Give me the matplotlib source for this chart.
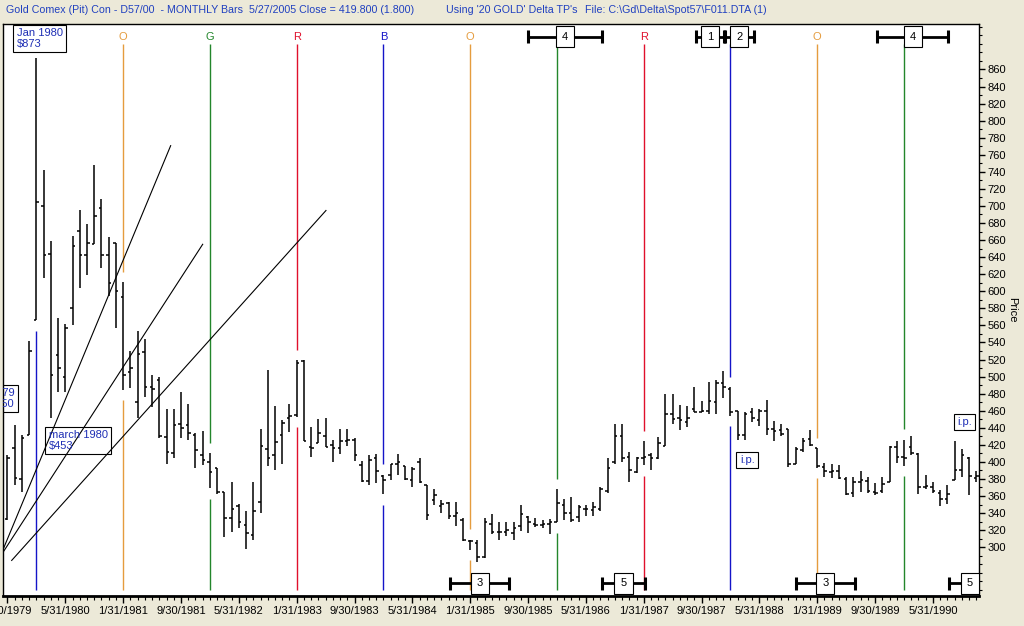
import matplotlib
matplotlib.use('Agg')
import matplotlib.pyplot as plt
from matplotlib.patches import Rectangle
from matplotlib.ticker import MultipleLocator

plt.rcParams['font.family'] = ['Liberation Sans', 'DejaVu Sans']

# monthly bars, index 0 = Sep 1979 ... 134 = Nov 1990
opens = [333, 416, 380, 432, 566, 700, 644, 525, 500, 580,
         671, 643, 656, 698, 642, 657, 593, 505, 470, 529,
         488, 496, 429, 410, 445, 443, 432, 408, 400, 393,
         365, 334, 348, 326, 314, 353, 415, 408, 432, 451,
         455, 518, 418, 422, 430, 420, 416, 425, 426, 396,
         378, 404, 384, 385, 398, 395, 379, 400, 373, 355,
         348, 352, 336, 332, 307, 305, 289, 327, 318, 318,
         317, 325, 335, 327, 326, 327, 329, 350, 340, 335,
         345, 344, 345, 366, 400, 430, 406, 388, 405, 408,
         405, 419, 456, 452, 447, 462, 458, 460, 470, 493,
         486, 460, 431, 458, 449, 460, 438, 437, 439, 398,
         414, 427, 416, 394, 388, 389, 380, 363, 376, 378,
         365, 366, 376, 418, 406, 418, 409, 371, 371, 363,
         356, 379, 390, 405, 381]
highs = [408, 443, 431, 542, 873, 742, 659, 569, 562, 665,
         695, 679, 748, 708, 664, 657, 611, 530, 553, 544,
         502, 499, 462, 462, 482, 468, 434, 436, 410, 393,
         365, 377, 351, 342, 376, 439, 508, 465, 449, 468,
         519, 519, 441, 450, 452, 426, 438, 439, 428, 401,
         408, 409, 385, 398, 409, 395, 394, 404, 373, 368,
         355, 353, 353, 334, 309, 309, 334, 339, 329, 330,
         330, 350, 336, 334, 332, 333, 368, 356, 359, 349,
         349, 353, 371, 404, 445, 445, 412, 406, 424, 410,
         429, 480, 480, 467, 465, 488, 471, 494, 496, 507,
         488, 460, 459, 463, 462, 473, 448, 445, 439, 417,
         428, 437, 416, 399, 398, 396, 382, 382, 389, 382,
         375, 382, 419, 424, 426, 430, 410, 385, 376, 367,
         373, 425, 415, 406, 389]
lows = [332, 373, 365, 431, 566, 616, 452, 482, 482, 560,
        604, 619, 655, 627, 594, 557, 484, 487, 452, 476,
        464, 428, 397, 405, 428, 426, 393, 396, 369, 362,
        312, 318, 322, 298, 308, 340, 395, 391, 398, 435,
        453, 424, 406, 422, 418, 400, 409, 419, 401, 377,
        373, 375, 362, 379, 385, 379, 371, 375, 332, 349,
        340, 333, 325, 307, 297, 283, 287, 316, 308, 313,
        308, 319, 317, 324, 322, 315, 329, 332, 330, 330,
        336, 337, 343, 363, 398, 400, 376, 387, 396, 391,
        403, 419, 445, 437, 441, 458, 458, 456, 456, 475,
        454, 426, 426, 447, 442, 432, 424, 430, 394, 398,
        412, 419, 393, 382, 381, 380, 361, 359, 365, 364,
        361, 364, 376, 399, 395, 408, 362, 368, 363, 348,
        351, 379, 382, 361, 377]
closes = [405, 381, 428, 530, 705, 642, 502, 510, 557, 653,
          642, 657, 688, 642, 610, 600, 502, 510, 527, 488,
          486, 430, 412, 443, 440, 434, 414, 402, 388, 365,
          334, 345, 330, 317, 343, 419, 405, 423, 446, 454,
          516, 424, 416, 434, 418, 416, 425, 426, 408, 378,
          402, 389, 379, 398, 400, 380, 392, 376, 338, 361,
          351, 337, 340, 309, 307, 288, 330, 318, 318, 320,
          322, 339, 329, 326, 327, 330, 352, 340, 332, 347,
          345, 347, 368, 393, 430, 405, 391, 405, 406, 405,
          422, 456, 450, 449, 452, 459, 460, 471, 493, 488,
          459, 432, 456, 451, 460, 438, 436, 433, 398, 415,
          425, 420, 395, 389, 389, 381, 362, 376, 379, 366,
          364, 374, 418, 406, 404, 410, 371, 372, 366, 356,
          362, 390, 408, 383, 384]

date_labels = ['9/30/1979', '5/31/1980', '1/31/1981', '9/30/1981', '5/31/1982',
               '1/31/1983', '9/30/1983', '5/31/1984', '1/31/1985', '9/30/1985',
               '5/31/1986', '1/31/1987', '9/30/1987', '5/31/1988', '1/31/1989',
               '9/30/1989', '5/31/1990']
label_months = list(range(0, 129, 8))

# turning point lines (month index, colour key, letter on top)
cycle_months = [4, 16, 28, 40, 52, 64, 76, 88, 100, 112, 124]
cycle_keys = ['B', 'O', 'G', 'R', 'B', 'O', 'G', 'R', 'B', 'O', 'G']
cycle_letters = ['', 'O', 'G', 'R', 'B', 'O', '', 'R', '', 'O', '']
line_colors = {'O': '#E59C3E', 'G': '#23862B', 'R': '#E0102C', 'B': '#1414C8'}

# time windows: label, centre month, half width
top_windows = [('4', 77.1, 5.1), ('1', 97.2, 1.95), ('2', 101.2, 2.0), ('4', 125.2, 4.9)]
bottom_windows = [('3', 65.3, 4.1), ('5', 85.2, 3.0), ('3', 113.1, 4.1), ('5', 133.1, 2.9)]

# fan lines drawn from the 1979 low
fan_lines = [((-1.04, 288.5), (22.57, 770.7)),
             ((-1.04, 288.5), (27.0, 655.1)),
             ((0.58, 284.5), (44.05, 694.7))]

bg = '#ECE9D8'
blue_txt = '#1F2FB5'

fig = plt.figure(figsize=(10.24, 6.26), dpi=100, facecolor=bg)
ax = fig.add_axes([3 / 1024, 30 / 626, 976 / 1024, 572 / 626])
ax.set_facecolor('white')

months = list(range(len(opens)))
tw = 0.35
ax.vlines(months, lows, highs, color='black', lw=1.1, zorder=3)
ax.hlines(opens, [m - tw for m in months], months, color='black', lw=1.1, zorder=3)
ax.hlines(closes, months, [m + tw for m in months], color='black', lw=1.1, zorder=3)

# vertical cycle lines with a gap around that month's bar
gap = 12
line_top, line_bot = 890, 250
for m, key, letter in zip(cycle_months, cycle_keys, cycle_letters):
    col = line_colors[key]
    ax.vlines(m, line_bot, lows[m] - gap, color=col, lw=1.0, zorder=2)
    if highs[m] + gap < line_top - 10:
        ax.vlines(m, highs[m] + gap, line_top, color=col, lw=1.0, zorder=2)
    if letter:
        ax.text(m, 898, letter, color=col, ha='center', va='center', fontsize=8)

for (x0, y0), (x1, y1) in fan_lines:
    ax.plot([x0, x1], [y0, y1], color='black', lw=0.8, zorder=2)


def window(label, c, w, y):
    ax.hlines(y, c - w, c + w, color='black', lw=2.0, zorder=4)
    ax.vlines([c - w, c + w], y - 7.6, y + 7.6, color='black', lw=2.2, zorder=4)
    ax.add_patch(Rectangle((c - 1.25, y - 12.3), 2.5, 24.6, fc='white', ec='black',
                           lw=0.8, zorder=5))
    ax.text(c, y, label, ha='center', va='center', fontsize=8, zorder=6)


for label, c, w in top_windows:
    window(label, c, w, 898.6)
for label, c, w in bottom_windows:
    window(label, c, w, 258)

box = dict(boxstyle='square,pad=0.3', fc='none', ec='black', lw=0.8)
ax.text(1.26, 896.3, 'Jan 1980\n$873', ha='left', va='center', color=blue_txt,
        fontsize=8, linespacing=1.1, bbox=box, zorder=7)
ax.text(5.68, 425, 'march 1980\n$453', ha='left', va='center', color=blue_txt,
        fontsize=8, linespacing=1.1, bbox=box, zorder=7)
ax.text(0.95, 474.3, 'Aug 1979\n$250', ha='right', va='center', color=blue_txt,
        fontsize=8, linespacing=1.1, bbox=box, zorder=7, clip_on=True)
ax.text(102.3, 402.2, 'i.p.', ha='center', va='center', color=blue_txt,
        fontsize=8, bbox=box, zorder=7)
ax.text(132.4, 446.7, 'i.p.', ha='center', va='center', color=blue_txt,
        fontsize=8, bbox=box, zorder=7)

ax.set_xlim(-0.62, 134.37)
ax.set_ylim(242.8, 913.3)

ax.set_xticks(label_months)
ax.set_xticklabels(date_labels, fontsize=8)
ax.xaxis.set_minor_locator(MultipleLocator(1))
ax.tick_params(axis='x', which='major', length=5, width=1, pad=2)
ax.tick_params(axis='x', which='minor', length=3, width=0.8)

ax.yaxis.tick_right()
ax.yaxis.set_label_position('right')
ax.set_yticks(list(range(300, 861, 20)))
ax.yaxis.set_minor_locator(MultipleLocator(10))
ax.tick_params(axis='y', which='major', length=4, width=1, pad=2, labelsize=8)
ax.tick_params(axis='y', which='minor', length=2, width=0.8)
ax.set_ylabel('Price', rotation=270, fontsize=8, labelpad=8)

for side in ['top', 'left', 'right']:
    ax.spines[side].set_linewidth(1.0)
ax.spines['bottom'].set_linewidth(2.0)

title_y = 1 - 10 / 626
fig.text(6 / 1024, title_y,
         'Gold Comex (Pit) Con - D57/00  - MONTHLY Bars  5/27/2005 Close = 419.800 (1.800)',
         color='#2040C0', fontsize=7.7, va='center')
fig.text(446 / 1024, title_y, "Using '20 GOLD' Delta TP's",
         color='#2040C0', fontsize=7.7, va='center')
fig.text(585 / 1024, title_y, r'File: C:\Gd\Delta\Spot57\F011.DTA (1)',
         color='#2040C0', fontsize=7.7, va='center')

fig.savefig('out.png', dpi=100, facecolor=bg)
